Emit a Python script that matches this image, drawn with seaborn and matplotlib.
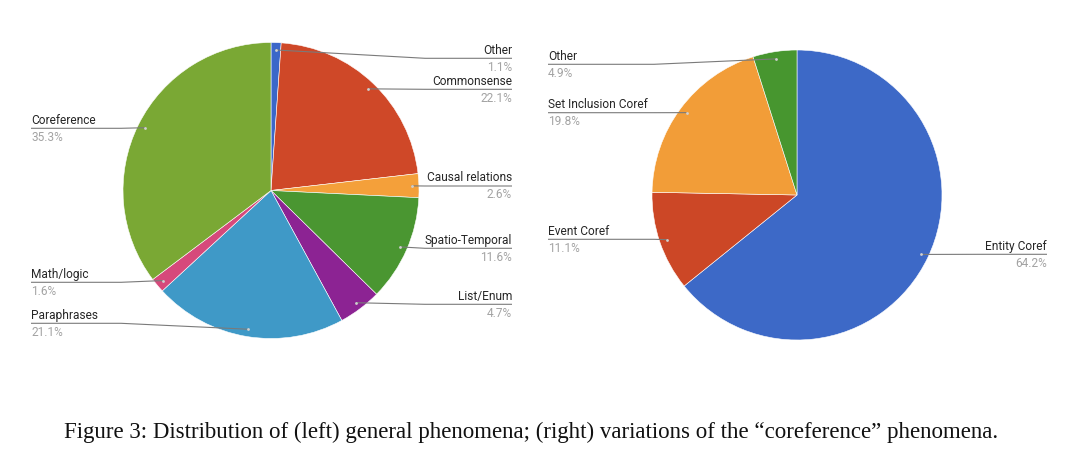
import numpy as np
import matplotlib
matplotlib.use("Agg")
import matplotlib.pyplot as plt
import seaborn as sns

# ---------------- data ----------------
left_labels = ["Other", "Commonsense", "Causal relations", "Spatio-Temporal",
               "List/Enum", "Paraphrases", "Math/logic", "Coreference"]
left_values = [1.1, 22.1, 2.6, 11.6, 4.7, 21.1, 1.6, 35.3]
left_colors = ["#3b67c9", "#cf4828", "#f4a03a", "#4a9631",
               "#8c2393", "#3f99c7", "#d6497b", "#7aa834"]

right_labels = ["Entity Coref", "Event Coref", "Set Inclusion Coref", "Other"]
right_values = [64.2, 11.1, 19.8, 4.9]
right_colors = ["#3d69c7", "#cc4726", "#f29d38", "#47962f"]

caption = ("Figure 3: Distribution of (left) general phenomena; (right) "
           "variations of the \u201ccoreference\u201d phenomena.")

# ---------------- layout (pixel units) ----------------
W, H = 1080, 470
left_layout = {
    "Other":            ("R", 58.3),
    "Commonsense":      ("R", 89.3),
    "Causal relations": ("R", 186.0),
    "Spatio-Temporal":  ("R", 248.3),
    "List/Enum":        ("R", 304.3),
    "Paraphrases":      ("L", 323.3),
    "Math/logic":       ("L", 282.3),
    "Coreference":      ("L", 128.3),
}
right_layout = {
    "Entity Coref":        ("R", 254.3),
    "Event Coref":         ("L", 239.3),
    "Set Inclusion Coref": ("L", 112.7),
    "Other":               ("L", 64.3),
}

sns.set_theme(style="white")
plt.rcParams["font.family"] = ["Roboto", "DejaVu Sans"]

fig = plt.figure(figsize=(W / 100, H / 100), dpi=100)
fig.patch.set_facecolor("white")
ax = fig.add_axes([0, 0, 1, 1])


def Y(py):
    return H - py


LINE_C = "#7a7a7a"
NAME_C = "#262626"
PCT_C = "#a3a3a3"
FS = 8.6


def draw_pie(values, labels, colors, center_px, radius, layout,
             x_left, x_right, elbow_left, elbow_right):
    cx, cy = center_px[0], Y(center_px[1])
    wedges, _ = ax.pie(values, colors=colors, startangle=90, counterclock=False,
                       center=(cx, cy), radius=radius,
                       wedgeprops=dict(linewidth=0.4, edgecolor="white"))
    for w, lab, val in zip(wedges, labels, values):
        mid = np.deg2rad((w.theta1 + w.theta2) / 2)
        dx = cx + 0.95 * radius * np.cos(mid)
        dy = cy + 0.95 * radius * np.sin(mid)
        side, ly = layout[lab]
        ly = Y(ly)
        if side == "R":
            ex = max(elbow_right, dx)
            xs = [dx, ex, x_right]
            tx, ha = x_right, "right"
        else:
            ex = min(elbow_left, dx)
            xs = [dx, ex, x_left]
            tx, ha = x_left, "left"
        ax.plot(xs, [dy, ly, ly], color=LINE_C, lw=0.8, zorder=3,
                solid_capstyle="butt")
        ax.scatter([dx], [dy], s=4, color="#d0d0d0", zorder=4, linewidths=0)
        ax.text(tx, ly + 1.6, lab, ha=ha, va="bottom", fontsize=FS,
                color=NAME_C)
        ax.text(tx, ly - 2.5, f"{val:.1f}%", ha=ha, va="top", fontsize=FS,
                color=PCT_C)


draw_pie(left_values, left_labels, left_colors, (271, 190.5), 148,
         left_layout, 31, 512, 121, 425)
draw_pie(right_values, right_labels, right_colors, (797, 195), 145,
         right_layout, 548, 1047, 654, 985)

ax.text(531, Y(432), caption, ha="center", va="center", fontsize=16.5,
        family=["Liberation Serif", "DejaVu Serif"], color="#111111")

ax.set_xlim(0, W)
ax.set_ylim(0, H)
ax.set_aspect("equal")
ax.axis("off")

fig.savefig("out.png", dpi=100, facecolor="white")
